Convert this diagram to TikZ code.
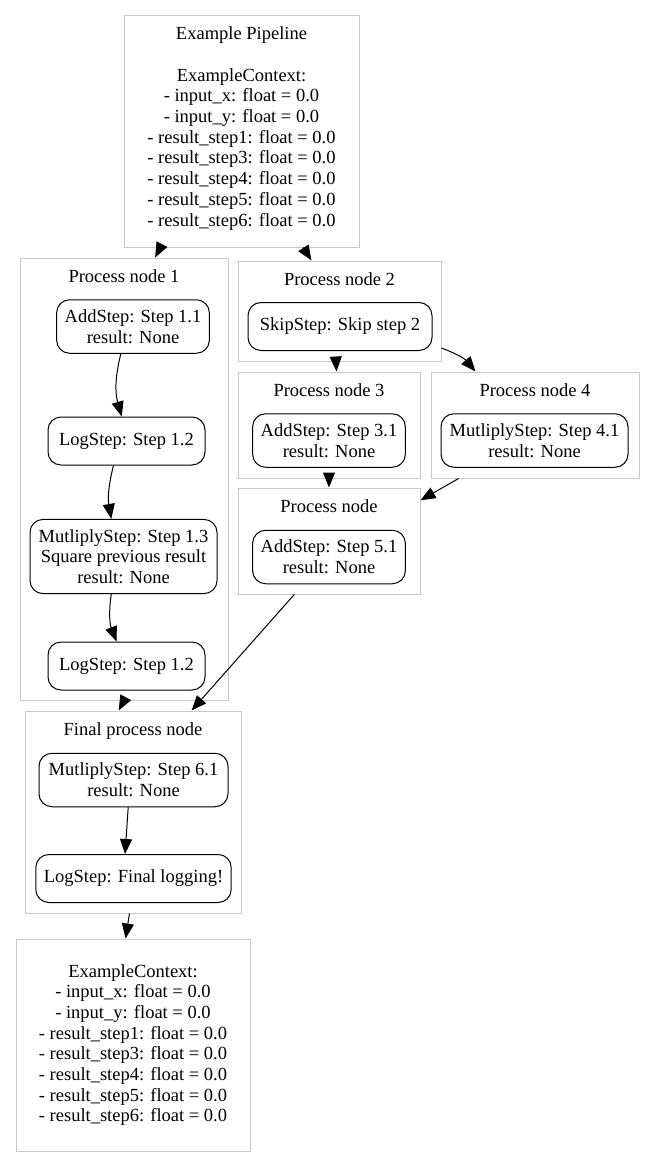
\documentclass[tikz,border=0pt]{standalone}
\usepackage{fontspec}
\setmainfont{Liberation Serif}
\usepackage{xcolor}
\usepackage{tikz}
\usetikzlibrary{positioning,arrows.meta}
\definecolor{clustergray}{HTML}{C8C8C8}

\begin{document}
\begin{tikzpicture}[x=1pt, y=1pt, line width=1pt, node distance=12pt,
    every node/.style={align=center, font=\fontsize{18.5}{20.7}\selectfont},
    >={Triangle[length=15pt,width=12pt]},
    cluster/.style={draw=clustergray, inner sep=0pt},
    clustertitle/.style={inner sep=0pt},
    stepbox/.style={draw, rounded corners=13pt, inner xsep=8pt, inner ysep=9.85pt, minimum height=48pt}]
    \useasboundingbox (0,0) rectangle (655,-1156);

    % input context
    \node (ctxin) [cluster, text depth=10pt, minimum width=235pt, minimum height=231pt] at (241.5,-131.5)
        {Example Pipeline\\[20.7pt]ExampleContext:\\- input\_x: float = 0.0\\- input\_y: float = 0.0\\- result\_step1: float = 0.0\\- result\_step3: float = 0.0\\- result\_step4: float = 0.0\\- result\_step5: float = 0.0\\- result\_step6: float = 0.0};

    % process node 1
    \node (c1) [cluster, minimum width=208pt, minimum height=442pt] at (124,-479) {};
    \node (t1) [clustertitle, below=11.5pt of c1.north] {Process node 1};
    \node (add11) [stepbox] at (133,-326.5) {AddStep: Step 1.1\\result: None};
    \node (log12a) [stepbox, minimum width=157pt] at (126.5,-441) {LogStep: Step 1.2};
    \node (mul13) [stepbox, minimum width=187pt] at (123.5,-556.5) {MutliplyStep: Step 1.3\\Square previous result\\result: None};
    \node (log12b) [stepbox, minimum width=157pt] at (126.5,-666) {LogStep: Step 1.2};

    % process nodes 2, 3, 4 and 5
    \node (c2) [cluster, minimum width=203pt, minimum height=100pt] at (339.5,-311) {};
    \node (t2) [clustertitle, below=11.5pt of c2.north] {Process node 2};
    \node (skip2) [stepbox, minimum width=184pt] at (340,-326.5) {SkipStep: Skip step 2};

    \node (c3) [cluster, minimum width=182pt, minimum height=106pt] at (329,-425) {};
    \node (t3) [clustertitle, below=11.5pt of c3.north] {Process node 3};
    \node (add31) [stepbox] at (329,-440.5) {AddStep: Step 3.1\\result: None};

    \node (c4) [cluster, minimum width=208pt, minimum height=106pt] at (535,-425) {};
    \node (t4) [clustertitle, below=11.5pt of c4.north] {Process node 4};
    \node (mul41) [stepbox, minimum width=187pt] at (534.5,-440.5) {MutliplyStep: Step 4.1\\result: None};

    \node (c5) [cluster, minimum width=182pt, minimum height=106pt] at (329,-541) {};
    \node (t5) [clustertitle, below=11.5pt of c5.north] {Process node};
    \node (add51) [stepbox] at (329,-557) {AddStep: Step 5.1\\result: None};

    % final process node
    \node (fc) [cluster, minimum width=216pt, minimum height=202pt] at (133,-812) {};
    \node (tf) [clustertitle, below=11.5pt of fc.north] {Final process node};
    \node (mul61) [stepbox, minimum width=189pt] at (133.5,-780) {MutliplyStep: Step 6.1\\result: None};
    \node (logfin) [stepbox, minimum width=195pt] at (133.5,-878.5) {LogStep: Final logging!};

    % output context
    \node (ctxout) [cluster, minimum width=234pt, minimum height=212pt] at (133,-1045)
        {ExampleContext:\\- input\_x: float = 0.0\\- input\_y: float = 0.0\\- result\_step1: float = 0.0\\- result\_step3: float = 0.0\\- result\_step4: float = 0.0\\- result\_step5: float = 0.0\\- result\_step6: float = 0.0};

    % arrows
    \draw[->] (ctxin.235) -- (c1.82);
    \draw[->] (ctxin.-62) -- (c2.119);
    \draw[->] (add11.246) to[bend right=15] (log12a.101);
    \draw[->] (log12a.242) to[bend right=12] (mul13.108);
    \draw[->] (mul13.252) to[bend right=15] (log12b.112);
    \draw[->] (c2.266) -- (c3.82);
    \draw[->] (c2.-20) to[bend left=15] (c4.138);
    \draw[->] (c3) -- (c5);
    \draw[->] (c4.215) -- (c5.24);
    \draw[->] (c1.south) -- (fc.98);
    \draw[->] (c5.237) -- (fc.60);
    \draw[->] (mul61.259) -- (logfin.109);
    \draw[->] (fc.268) -- (ctxout.94);
\end{tikzpicture}
\end{document}
